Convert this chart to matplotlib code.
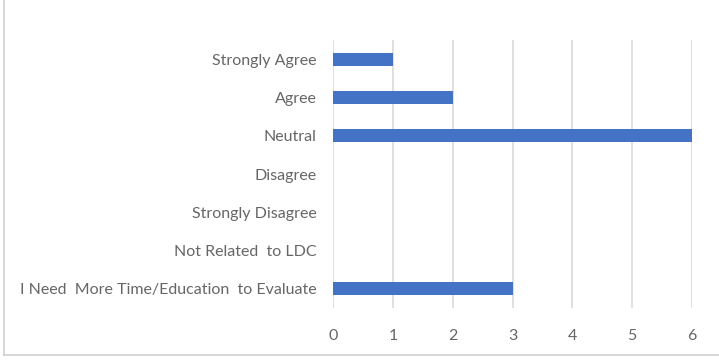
import matplotlib
matplotlib.use("Agg")
import matplotlib.pyplot as plt
from matplotlib.lines import Line2D

categories = [
    "Strongly Agree",
    "Agree",
    "Neutral",
    "Disagree",
    "Strongly Disagree",
    "Not Related  to LDC",
    "I Need  More Time/Education  to Evaluate",
]
counts = [1, 2, 6, 0, 0, 0, 3]
x_ticks = [0, 1, 2, 3, 4, 5, 6]

plt.rcParams["font.family"] = ["Lato", "DejaVu Sans"]

W, H = 719, 360
fig = plt.figure(figsize=(W / 100, H / 100), dpi=100)
ax = fig.add_axes([333 / W, 1 - 308 / H, (692 - 333) / W, (308 - 40) / H])

ypos = list(range(len(categories)))
ax.barh(ypos, counts, height=0.34, color="#4472C4", zorder=3)
ax.set_ylim(len(categories) - 0.5, -0.5)
ax.set_xlim(0, 6)
ax.set_yticks(ypos)
ax.set_yticklabels(categories)
ax.set_xticks(x_ticks)
ax.set_xticklabels([str(t) for t in x_ticks])

ax.xaxis.grid(True, color="#d9d9d9", linewidth=1.2, zorder=0)
ax.yaxis.grid(False)
for s in ax.spines.values():
    s.set_visible(False)
ax.tick_params(axis="both", length=0, colors="#666666", labelsize=11.5)
ax.tick_params(axis="y", pad=12)
ax.tick_params(axis="x", pad=15)

# outer chart frame
fig.add_artist(Line2D([4 / W, 4 / W], [1 - 355 / H, 1.0], color="#d0d0d0", linewidth=1.2))
fig.add_artist(Line2D([4 / W, 1.0], [1 - 355 / H, 1 - 355 / H], color="#d0d0d0", linewidth=1.2))

fig.savefig("out.png", dpi=100, facecolor="white")
